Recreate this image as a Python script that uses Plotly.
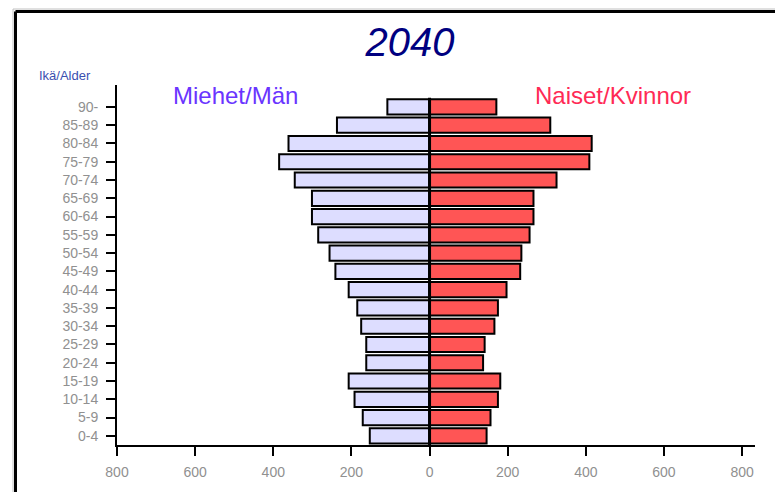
import plotly.graph_objects as go

# age groups, bottom to top
age_groups = ["0-4", "5-9", "10-14", "15-19", "20-24", "25-29", "30-34", "35-39",
              "40-44", "45-49", "50-54", "55-59", "60-64", "65-69", "70-74",
              "75-79", "80-84", "85-89", "90-"]
men = [153, 171, 192, 207, 162, 162, 175, 185, 207, 241, 256, 285, 301, 301,
       345, 385, 361, 237, 108]
women = [146, 156, 175, 181, 137, 141, 166, 175, 197, 232, 235, 256, 266, 266,
         325, 409, 415, 309, 171]
tick_vals = [-800, -600, -400, -200, 0, 200, 400, 600, 800]
tick_text = ["800", "600", "400", "200", "0", "200", "400", "600", "800"]

# plot area in pixels (used to place texts and frame)
L, R, T, B = 117, 755, 85, 445
W, H = 775, 492


def px_x(px):
    return (px - L) / (R - L)


def px_y(py):
    return (B - py) / (B - T)


fig = go.Figure()

fig.add_trace(go.Bar(y=list(range(len(age_groups))), x=[-v for v in men], orientation="h",
                     marker=dict(color="#DDDDFF", line=dict(color="black", width=2)),
                     name="Miehet/Män"))
fig.add_trace(go.Bar(y=list(range(len(age_groups))), x=women, orientation="h",
                     marker=dict(color="#FF5555", line=dict(color="black", width=2)),
                     name="Naiset/Kvinnor"))

fig.update_layout(
    width=W, height=H, autosize=False,
    margin=dict(l=L, r=W - R, t=T, b=H - B),
    barmode="overlay", bargap=0.17,
    showlegend=False,
    plot_bgcolor="white", paper_bgcolor="white",
    font=dict(family="Liberation Sans, Arial", color="#909090", size=14),
    title=dict(text="<i>2040</i>", x=410 / W, y=1 - 42 / H, xanchor="center", yanchor="middle",
               font=dict(size=40, color="#000080", family="Liberation Sans, Arial")),
)

fig.update_xaxes(range=[-800, 833], tickvals=tick_vals, ticktext=tick_text,
                 showgrid=False, zeroline=False, showline=True, linecolor="black", linewidth=2,
                 ticks="outside", ticklen=9, tickwidth=2, tickcolor="black",
                 ticklabelstandoff=4,
                 tickfont=dict(size=14, color="#909090"))
fig.update_yaxes(range=[-0.5, 19.2], tickvals=list(range(len(age_groups))), ticktext=age_groups,
                 showgrid=False, zeroline=False, showline=True, linecolor="black", linewidth=2,
                 ticks="outside", ticklen=9, tickwidth=2, tickcolor="black",
                 ticklabelstandoff=5,
                 tickfont=dict(size=14, color="#909090"))

# center line
fig.add_shape(type="line", x0=0, x1=0, y0=-0.5, y1=18.5, xref="x", yref="y",
              line=dict(color="black", width=3), layer="above")

# outer frame: only top and left edges are visible in the window
for off, color, width in [(0, "#C0C0C0", 1), (2.5, "black", 3)]:
    fig.add_shape(type="line", xref="paper", yref="paper",
                  x0=px_x(13 + off), y0=px_y(9 + off), x1=px_x(W), y1=px_y(9 + off),
                  line=dict(color=color, width=width), layer="above")
    fig.add_shape(type="line", xref="paper", yref="paper",
                  x0=px_x(13 + off), y0=px_y(9 + off), x1=px_x(13 + off), y1=px_y(H),
                  line=dict(color=color, width=width), layer="above")

fig.add_annotation(text="Miehet/Män", x=px_x(235), y=px_y(95), xref="paper", yref="paper",
                   showarrow=False, xanchor="center", yanchor="middle",
                   font=dict(size=24, color="#6A35FF"))
fig.add_annotation(text="Naiset/Kvinnor", x=px_x(613), y=px_y(95), xref="paper", yref="paper",
                   showarrow=False, xanchor="center", yanchor="middle",
                   font=dict(size=24, color="#FF2A55"))
fig.add_annotation(text="Ikä/Alder", x=px_x(37), y=px_y(75), xref="paper", yref="paper",
                   showarrow=False, xanchor="left", yanchor="middle",
                   font=dict(size=13, color="#3A4FB0"))

# page body has a default margin and may scroll; remove both so the figure fills the window
fig.write_html("out.html", config={"displayModeBar": False},
               post_script="document.body.style.margin='0';"
                           "document.body.style.overflow='hidden';"
                           "document.documentElement.style.overflow='hidden';")
